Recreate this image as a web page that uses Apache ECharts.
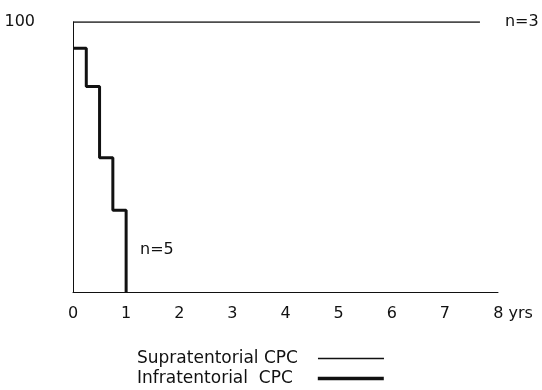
<!DOCTYPE html>
<html><head><meta charset="utf-8">
<script src="https://cdn.jsdelivr.net/npm/echarts@6/dist/echarts.min.js"></script>
<style>html,body{margin:0;padding:0;background:#fff}#c{width:542px;height:390px}</style>
</head><body><div id="c"></div>
<script>
// Data
const xTicks = [0, 1, 2, 3, 4, 5, 6, 7, 8];
const supraYears = [0, 7.66];
const supraSurvival = [100, 100];
const infraYears = [0, 0.25, 0.5, 0.75, 1.0];
const infraSurvival = [90.3, 76.1, 49.7, 30.3, 0];
const seriesNames = ['Supratentorial CPC', 'Infratentorial  CPC'];
const nLabels = ['n=3', 'n=5'];

const font = '"DejaVu Sans", sans-serif';
const ink = '#111';
const chart = echarts.init(document.getElementById('c'));
chart.setOption({
  animation: false,
  backgroundColor: '#fff',
  grid: { left: 73, right: 44, top: 22, bottom: 98 },
  xAxis: {
    type: 'value', min: 0, max: 8, interval: 1,
    axisLine: { show: true, lineStyle: { color: ink, width: 1 } },
    axisTick: { show: false },
    splitLine: { show: false },
    axisLabel: {
      margin: 14, color: ink, fontFamily: font, fontSize: 16,
      formatter: v => v === 8 ? '{p|}8 yrs' : String(v),
      rich: { p: { width: 30 } }
    }
  },
  yAxis: {
    type: 'value', min: 0, max: 100, interval: 100,
    axisLine: { show: true, lineStyle: { color: ink, width: 1 } },
    axisTick: { show: false },
    splitLine: { show: false },
    axisLabel: {
      margin: 38, color: ink, fontFamily: font, fontSize: 16,
      formatter: v => v === 100 ? '100' : ''
    }
  },
  legend: [
    {
      orient: 'vertical', left: 132, top: 345, height: 20, align: 'right',
      icon: 'rect', itemWidth: 66, itemHeight: 1.5,
      textStyle: { color: ink, fontFamily: font, fontSize: 17, padding: [0, 15, 0, 0] },
      data: [seriesNames[0]]
    },
    {
      orient: 'vertical', left: 132, top: 365, height: 20, align: 'right',
      icon: 'rect', itemWidth: 66, itemHeight: 3.5,
      textStyle: { color: ink, fontFamily: font, fontSize: 17, padding: [0, 20, 0, 0] },
      data: [seriesNames[1]]
    }
  ],
  series: [
    {
      name: seriesNames[0], type: 'line', symbol: 'none',
      data: supraYears.map((x, i) => [x, supraSurvival[i]]),
      lineStyle: { color: ink, width: 1.5 },
      itemStyle: { color: ink },
      endLabel: { show: true, formatter: nLabels[0], distance: 25, color: ink, fontFamily: font, fontSize: 16 }
    },
    {
      name: seriesNames[1], type: 'line', symbol: 'none', step: 'end',
      data: infraYears.map((x, i) => [x, infraSurvival[i]]),
      lineStyle: { color: ink, width: 3 },
      itemStyle: { color: ink },
      markPoint: {
        symbol: 'circle', symbolSize: 0,
        label: { show: true, position: 'inside', formatter: nLabels[1], color: ink, fontFamily: font, fontSize: 16 },
        data: [{ coord: [1.58, 15.6] }]
      }
    }
  ]
});
</script></body></html>
